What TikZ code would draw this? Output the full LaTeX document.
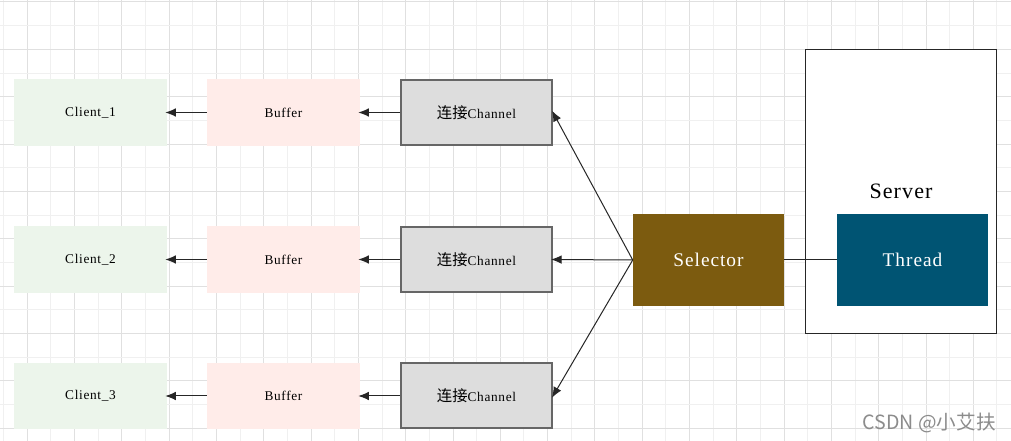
\documentclass[tikz,border=0pt]{standalone}
\usepackage{fontspec}
\setmainfont[LetterSpace=5]{Liberation Serif}
\newfontfamily\cjk{Noto Sans CJK SC}
\usetikzlibrary{arrows.meta}

\tikzset{
  box/.style={inner sep=0pt,minimum width=#1,font=\fontsize{10}{12}\selectfont},
  link/.style={draw=black!85,line width=0.75pt,shorten >=-1.5pt,-{Latex[length=8pt,width=6.5pt]}}
}

\begin{document}
\begin{tikzpicture}[x=0.75pt, y=-0.75pt]
            \tikzstyle{client}=[box=114.75pt,minimum height=50pt,fill={rgb,255:red,236;green,245;blue,235}]
            \tikzstyle{buffer}=[box=114.75pt,minimum height=50pt,fill={rgb,255:red,255;green,236;blue,233}]
            \tikzstyle{channel}=[box=113.25pt,minimum height=48.75pt,fill={rgb,255:red,221;green,221;blue,221},draw={rgb,255:red,102;green,102;blue,102},line width=1.5pt]
            \tikzstyle{worker}=[box=113.25pt,minimum height=69pt,text=white,font=\fontsize{14.5}{17}\selectfont]

            \useasboundingbox (0,0) rectangle (1011,441);
            \fill[white] (0,0) rectangle (1011,441);

            % grid
            \foreach \i in {0,...,21} {
                \draw[line width=0.75pt,black!6] ({3.65+47.3*\i},0) -- ++(0,441);
                \draw[line width=0.75pt,black!12] ({27.3+47.3*\i},0) -- ++(0,441);
            }
            \foreach \i in {0,...,9} {
                \draw[line width=0.75pt,black!12] (0,{2+47.35*\i}) -- ++(1011,0);
                \draw[line width=0.75pt,black!6] (0,{25.7+47.35*\i}) -- ++(1011,0);
            }

            \node[client] (C_1) at (90.5,112.5)  {Client\_1};
            \node[client] (C_2) at (90.5,259.5)  {Client\_2};
            \node[client] (C_3) at (90.5,396)  {Client\_3};
            \node[buffer] (B_1) at (283.5,112.5)  {Buffer};
            \node[buffer] (B_2) at (283.5,259.5)  {Buffer};
            \node[buffer] (B_3) at (283.5,396)  {Buffer};
            \node[channel] (H_1) at (476.5,112.5)  {{\cjk\fontsize{11.5}{12}\selectfont 连接}Channel};
            \node[channel] (H_2) at (476.5,259.5)  {{\cjk\fontsize{11.5}{12}\selectfont 连接}Channel};
            \node[channel] (H_3) at (476.5,396)  {{\cjk\fontsize{11.5}{12}\selectfont 连接}Channel};

            \node[draw=black!85,fill=white,line width=0.75pt,inner sep=0pt,minimum width=143.5pt,minimum height=213.5pt,font=\fontsize{16.5}{18}\selectfont] (S) at (901,191.5)  {Server};
            \node[worker,fill={rgb,255:red,124;green,91;blue,15}] (L) at (708.5,260)  {Selector};
            \node[worker,fill={rgb,255:red,0;green,84;blue,115}] (T) at (912.5,260)  {Thread};

            \draw[link] (B_1) -- (C_1);
            \draw[link] (B_2) -- (C_2);
            \draw[link] (B_3) -- (C_3);
            \draw[link] (H_1) -- (B_1);
            \draw[link] (H_2) -- (B_2);
            \draw[link] (H_3) -- (B_3);
            \draw[link] (L.west) -- (H_1.east);
            \draw[link] (L.west) -- (H_2.east);
            \draw[link] (L.west) -- (H_3.east);
            \draw[draw=black!85,line width=0.75pt] (L) -- (T);

            \node[text=black!45,font=\cjk\fontsize{14.7}{16}\selectfont,anchor=east,inner sep=0pt] (W) at (996,423)  {CSDN @小艾扶};
        \end{tikzpicture}
\end{document}
